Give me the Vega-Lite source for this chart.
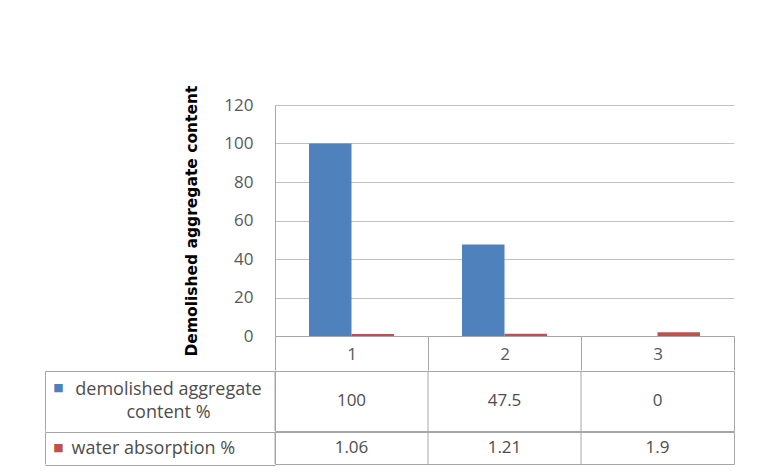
{
  "$schema": "https://vega.github.io/schema/vega-lite/v6.json",
  "background": "white",
  "padding": {"left": 44, "top": 85, "right": 10, "bottom": 4},
  "spacing": -1,
  "datasets": {
    "mix": [
      {"category": "1", "series": "demolished aggregate content %", "value": 100},
      {"category": "1", "series": "water absorption %", "value": 1.06},
      {"category": "2", "series": "demolished aggregate content %", "value": 47.5},
      {"category": "2", "series": "water absorption %", "value": 1.21},
      {"category": "3", "series": "demolished aggregate content %", "value": 0},
      {"category": "3", "series": "water absorption %", "value": 1.9}
    ]
  },
  "config": {
    "font": "Open Sans",
    "axis": {"labelFont": "Open Sans", "labelFontSize": 17, "labelColor": "#595959"}
  },
  "vconcat": [
    {
      "width": 459,
      "height": 231,
      "data": {"name": "mix"},
      "view": {"stroke": null},
      "mark": {"type": "bar"},
      "encoding": {
        "x": {
          "field": "category",
          "type": "nominal",
          "scale": {"type": "band", "paddingInner": 0, "paddingOuter": 0},
          "axis": {
            "title": null,
            "orient": "bottom",
            "labelAngle": 0,
            "labelBaseline": "middle",
            "labelPadding": -16,
            "domain": true,
            "domainColor": "#a6a6a6",
            "ticks": true,
            "tickBand": "extent",
            "tickSize": 34,
            "tickColor": "#a6a6a6",
            "grid": false
          }
        },
        "xOffset": {
          "field": "series",
          "type": "nominal",
          "scale": {"paddingInner": 0, "paddingOuter": 0.8}
        },
        "y": {
          "field": "value",
          "type": "quantitative",
          "scale": {"domain": [0, 120], "nice": false},
          "axis": {
            "title": "Demolished aggregate content",
            "titleFont": "DejaVu Sans",
            "titleFontSize": 15.5,
            "titleFontWeight": "bold",
            "titleColor": "#000000",
            "titlePadding": 24,
            "values": [0, 20, 40, 60, 80, 100, 120],
            "grid": true,
            "gridColor": "#c0c0c0",
            "domain": true,
            "domainColor": "#a6a6a6",
            "ticks": false,
            "labelPadding": 22
          }
        },
        "color": {
          "field": "series",
          "type": "nominal",
          "scale": {"range": ["#4f81bd", "#c0504d"]},
          "legend": null
        }
      }
    },
    {
      "width": 459,
      "height": 60,
      "data": {"name": "mix"},
      "transform": [{"filter": "datum.series === 'demolished aggregate content %'"}],
      "view": {"stroke": "#a6a6a6"},
      "encoding": {
        "x": {
          "field": "category",
          "type": "nominal",
          "scale": {"type": "band", "paddingInner": 0, "paddingOuter": 0},
          "axis": null
        }
      },
      "layer": [
        {
          "mark": {"type": "rule", "color": "#a6a6a6"},
          "encoding": {
            "x": {"field": "category", "type": "nominal", "bandPosition": 0, "axis": null}
          }
        },
        {
          "mark": {"type": "text", "font": "Open Sans", "fontSize": 17, "color": "#4d4d4d", "baseline": "middle"},
          "encoding": {
            "y": {
              "field": "series",
              "type": "nominal",
              "scale": {"type": "band", "paddingInner": 0, "paddingOuter": 0},
              "axis": {
                "orient": "right",
                "offset": -689,
                "domain": true,
                "domainColor": "#a6a6a6",
                "ticks": true,
                "tickOffset": -30,
                "tickSize": 230,
                "tickColor": "#a6a6a6",
                "grid": false,
                "labelAlign": "center",
                "labelBaseline": "middle",
                "labelPadding": -107,
                "labelOffset": 18.5,
                "labelLimit": 0,
                "labelFontSize": 18,
                "labelLineHeight": 23,
                "labelColor": "#4d4d4d",
                "labelExpr": "datum.label === 'demolished aggregate content %' ? ['demolished aggregate', 'content %'] : datum.label",
                "title": "■",
                "titleAngle": 0,
                "titleX": 13,
                "titleY": 16.5,
                "titleAlign": "center",
                "titleBaseline": "middle",
                "titleFont": "DejaVu Sans",
                "titleFontSize": 11,
                "titleFontWeight": "normal",
                "titleColor": "#4f81bd"
              }
            },
            "text": {"field": "value", "type": "quantitative", "format": "~g"}
          }
        }
      ]
    },
    {
      "width": 459,
      "height": 32,
      "data": {"name": "mix"},
      "transform": [{"filter": "datum.series === 'water absorption %'"}],
      "view": {"stroke": "#a6a6a6"},
      "encoding": {
        "x": {
          "field": "category",
          "type": "nominal",
          "scale": {"type": "band", "paddingInner": 0, "paddingOuter": 0},
          "axis": null
        }
      },
      "layer": [
        {
          "mark": {"type": "rule", "color": "#a6a6a6"},
          "encoding": {
            "x": {"field": "category", "type": "nominal", "bandPosition": 0, "axis": null}
          }
        },
        {
          "mark": {"type": "text", "font": "Open Sans", "fontSize": 17, "color": "#4d4d4d", "baseline": "middle"},
          "encoding": {
            "y": {
              "field": "series",
              "type": "nominal",
              "scale": {"type": "band", "paddingInner": 0, "paddingOuter": 0},
              "axis": {
                "orient": "right",
                "offset": -689,
                "domain": true,
                "domainColor": "#a6a6a6",
                "ticks": true,
                "tickOffset": -16,
                "tickSize": 230,
                "tickColor": "#a6a6a6",
                "grid": false,
                "labelAlign": "left",
                "labelBaseline": "middle",
                "labelPadding": -204,
                "labelOffset": 16,
                "labelLimit": 0,
                "labelFontSize": 18,
                "labelColor": "#4d4d4d",
                "title": "■",
                "titleAngle": 0,
                "titleX": 13,
                "titleY": 15,
                "titleAlign": "center",
                "titleBaseline": "middle",
                "titleFont": "DejaVu Sans",
                "titleFontSize": 11,
                "titleFontWeight": "normal",
                "titleColor": "#c0504d"
              }
            },
            "text": {"field": "value", "type": "quantitative", "format": "~g"}
          }
        }
      ]
    },
    {
      "width": 459,
      "height": 1,
      "data": {"name": "mix"},
      "transform": [{"filter": "datum.series === 'water absorption %'"}],
      "view": {"stroke": null},
      "mark": {"type": "rule", "opacity": 0},
      "encoding": {
        "y": {
          "field": "series",
          "type": "nominal",
          "scale": {"type": "band", "paddingInner": 0, "paddingOuter": 0},
          "axis": {
            "orient": "right",
            "offset": -689,
            "domain": false,
            "labels": false,
            "title": null,
            "ticks": true,
            "tickOffset": -0.5,
            "tickSize": 230,
            "tickColor": "#a6a6a6",
            "grid": false
          }
        }
      }
    }
  ]
}
